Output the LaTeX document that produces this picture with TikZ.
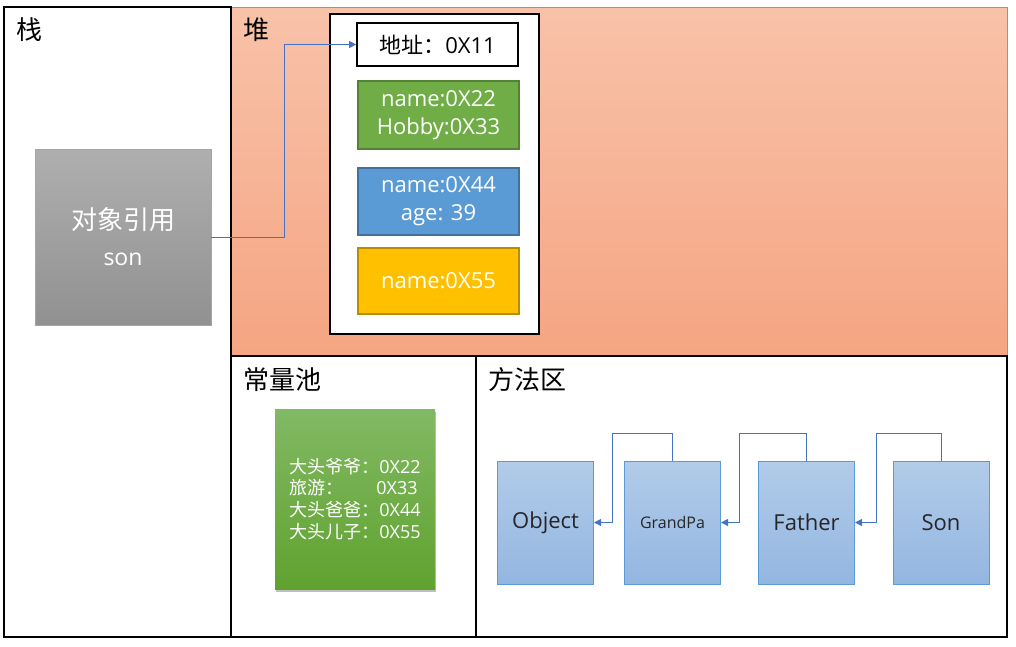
\documentclass[tikz,border=0pt]{standalone}
\usepackage{fontspec}
\setmainfont{Open Sans}
\newfontfamily\cjk{Noto Sans CJK SC}
\usetikzlibrary{arrows.meta,shadows}
\definecolor{heapT}{HTML}{F8C2A9}
\definecolor{heapB}{HTML}{F5A582}
\definecolor{heapL}{HTML}{ED7D31}
\definecolor{gA}{HTML}{70AD47}
\definecolor{gAd}{HTML}{548235}
\definecolor{bA}{HTML}{5B9BD5}
\definecolor{bAd}{HTML}{41719C}
\definecolor{yA}{HTML}{FFC000}
\definecolor{yAd}{HTML}{BC8C00}
\definecolor{grT}{HTML}{AFAFAF}
\definecolor{grB}{HTML}{919191}
\definecolor{grL}{HTML}{A5A5A5}
\definecolor{cgT}{HTML}{82B964}
\definecolor{cgB}{HTML}{60A22F}
\definecolor{mT}{HTML}{B2CCE9}
\definecolor{mB}{HTML}{93B6E1}
\definecolor{mL}{HTML}{5B9BD5}
\definecolor{conn}{HTML}{4472C4}
\tikzset{
  area/.style={draw=black, line width=2pt, inner sep=0pt},
  cell/.style={line width=1.2pt, inner sep=0pt, text=white, align=center,
    font=\fontsize{22}{28}\selectfont, minimum width=161pt},
  mbox/.style={draw=mL, line width=1pt, top color=mT, bottom color=mB,
    minimum width=96pt, minimum height=123pt, inner sep=0pt, text=black!85,
    font=\fontsize{22}{26}\selectfont},
  title/.style={anchor=west, inner sep=0pt, font=\cjk\fontsize{26}{30}\selectfont},
  link/.style={draw=conn, line width=1pt, -{Triangle[length=7pt,width=7pt]}},
}
\begin{document}
\begin{tikzpicture}[x=1pt,y=-1pt]
\useasboundingbox (0,0) rectangle (1016,646);
% heap area
\node[draw=heapL, line width=1pt, top color=heapT, bottom color=heapB,
  minimum width=776.5pt, minimum height=349pt, inner sep=0pt] (heap) at (619.25,181.5) {};
% stack
\node[area, minimum width=227pt, minimum height=630pt] (stack) at (117.5,322) {};
% pool
\node[area, minimum width=245pt, minimum height=281pt] (pool) at (353.5,496.5) {};
% method
\node[area, minimum width=531pt, minimum height=281pt] (method) at (741.5,496.5) {};
% titles
\node[title] (tstack) at (16,30) {栈};
\node[title] (theap) at (243,30) {堆};
\node[title] (tpool) at (243,380) {常量池};
\node[title] (tmethod) at (488,380) {方法区};
% heap object
\node[area, fill=white, minimum width=209pt, minimum height=320pt] (obj) at (434.5,174) {};
\node[draw=black, line width=1.6pt, fill=white, minimum width=161pt, minimum height=43pt,
  inner sep=0pt, font=\fontsize{22}{28}\selectfont] (addr) at (437.5,44.5) {{\cjk 地址：}0X11};
\node[cell, draw=gAd, fill=gA, minimum height=68pt] (fgreen) at (438.5,115) {name:0X22\\Hobby:0X33};
\node[cell, draw=bAd, fill=bA, minimum height=67pt] (fblue) at (438.5,201.5) {name:0X44\\age: 39};
\node[cell, draw=yAd, fill=yA, minimum height=66pt] (fyellow) at (438.5,281) {name:0X55};
% stack reference
\node[draw=grL, line width=0.8pt, top color=grT, bottom color=grB, minimum width=176pt,
  minimum height=176pt, inner sep=0pt, text=white, align=center,
  font=\fontsize{23}{36}\selectfont] (ref) at (123,237)
  {{\cjk\fontsize{26}{36}\selectfont 对象引用}\\son};
\draw[link, line width=0.9pt] (ref.east) -- ++(73,0) |- (addr.west);
% constant pool
\node[top color=cgT, bottom color=cgB, minimum width=160pt, minimum height=180pt, inner sep=0pt,
  drop shadow={shadow xshift=1pt, shadow yshift=-3pt, opacity=0.25, fill=black},
  text=white, align=left, font=\fontsize{18}{21.7}\selectfont] (cpool) at (355,499)
  {\makebox[90pt][l]{\cjk 大头爷爷：}0X22\\
   \makebox[87pt][l]{\cjk 旅游：}0X33\\
   \makebox[90pt][l]{\cjk 大头爸爸：}0X44\\
   \makebox[90pt][l]{\cjk 大头儿子：}0X55};
% method area classes
\node[mbox] (cobj) at (545.5,522.5) {Object};
\node[mbox, font=\fontsize{16}{20}\selectfont] (cgp) at (672.5,522.5) {GrandPa};
\node[mbox] (cfa) at (806.5,522.5) {Father};
\node[mbox] (cson) at (941,522.5) {Son};
\draw[link] (cgp.north) -- ++(0,-27) -| ([xshift=18pt]cobj.east) -- (cobj.east);
\draw[link] (cfa.north) -- ++(0,-27) -| ([xshift=18pt]cgp.east) -- (cgp.east);
\draw[link] (cson.north) -- ++(0,-27) -| ([xshift=21pt]cfa.east) -- (cfa.east);
\end{tikzpicture}
\end{document}
